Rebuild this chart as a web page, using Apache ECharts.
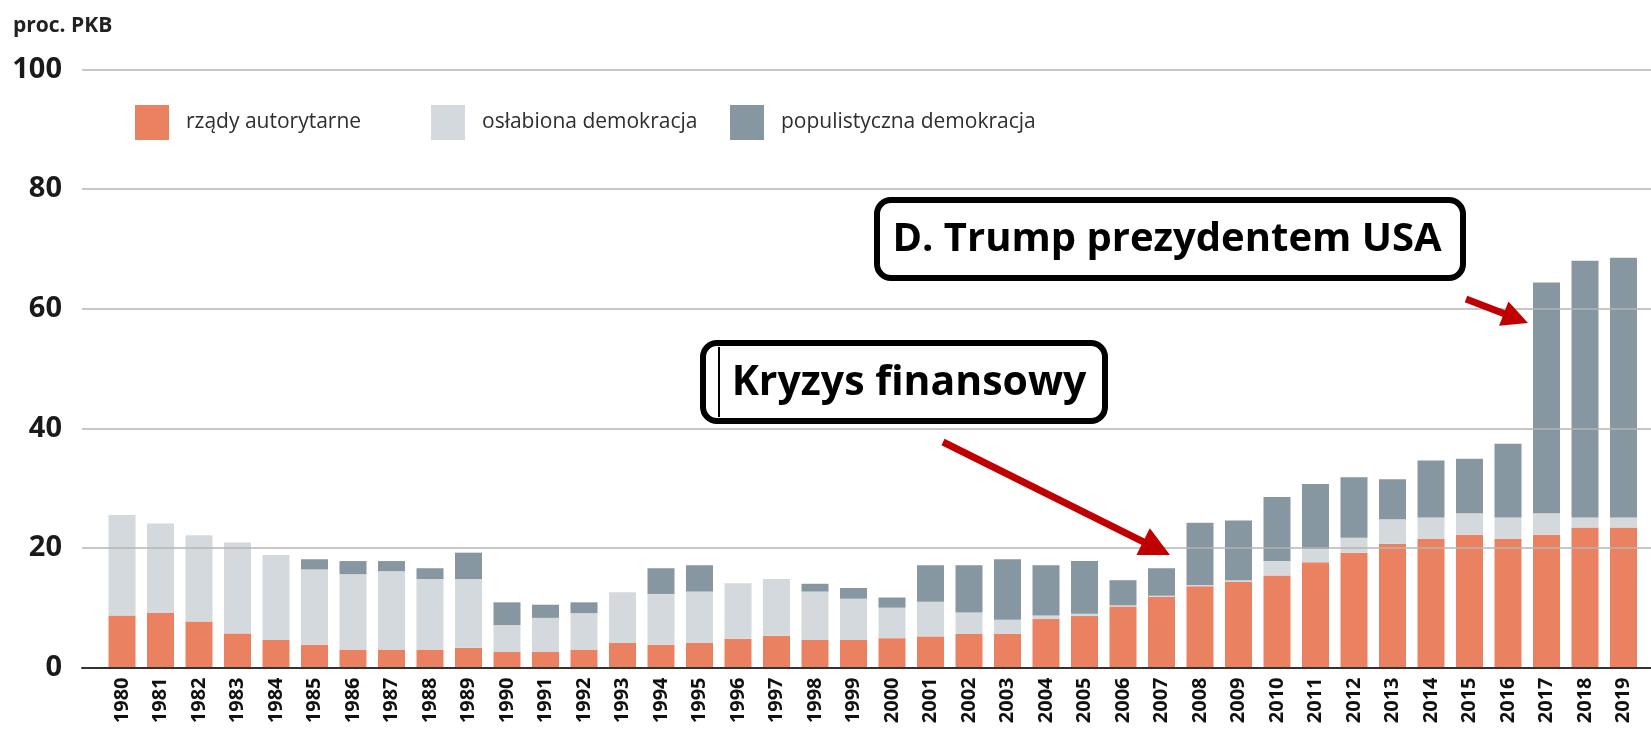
<!DOCTYPE html>
<html>
<head>
<meta charset="utf-8">
<script src="https://cdn.jsdelivr.net/npm/echarts@6/dist/echarts.min.js"></script>
<style>
html,body{margin:0;padding:0;background:#fff;}
#chart{width:1651px;height:729px;}
</style>
</head>
<body>
<div id="chart"></div>
<script>
const years = ['1980','1981','1982','1983','1984','1985','1986','1987','1988','1989',
  '1990','1991','1992','1993','1994','1995','1996','1997','1998','1999',
  '2000','2001','2002','2003','2004','2005','2006','2007','2008','2009',
  '2010','2011','2012','2013','2014','2015','2016','2017','2018','2019'];
const seriesNames = ['rządy autorytarne','osłabiona demokracja','populistyczna demokracja'];
const authoritarian = [8.7,9.1,7.7,5.7,4.6,3.8,3.0,3.0,3.0,3.3,
  2.6,2.6,3.0,4.1,3.8,4.1,4.8,5.3,4.6,4.6,
  4.9,5.2,5.6,5.6,8.1,8.6,10.2,11.8,13.6,14.3,
  15.4,17.6,19.2,20.7,21.5,22.2,21.5,22.2,23.4,23.4];
const weakened = [16.8,15.0,14.4,15.2,14.2,12.6,12.6,13.1,11.8,11.5,
  4.5,5.7,6.1,8.5,8.5,8.6,9.3,9.5,8.1,6.9,
  5.1,5.8,3.6,2.4,0.6,0.4,0.2,0.2,0.2,0.3,
  2.4,2.2,2.5,4.1,3.6,3.6,3.6,3.6,1.7,1.7];
const populist = [0,0,0,0,0,1.7,2.2,1.7,1.8,4.4,
  3.8,2.2,1.8,0,4.3,4.4,0,0,1.3,1.8,
  1.7,6.1,7.9,10.1,8.4,8.8,4.2,4.6,10.4,10.0,
  10.7,10.9,10.1,6.7,9.5,9.1,12.3,38.6,42.9,43.4];
const yTicks = [0,20,40,60,80,100];
const annotations = ['Kryzys finansowy','D. Trump prezydentem USA'];

const colors = ['#EA8262','#D4D9DE','#8797A1'];
const chart = echarts.init(document.getElementById('chart'));
const FONT = '"Open Sans", "Noto Sans", sans-serif';

function arrow(x1,y1,x2,y2,headLen,headHalf,color,w){
  const dx=x2-x1, dy=y2-y1, L=Math.hypot(dx,dy), ux=dx/L, uy=dy/L;
  const bx=x2-ux*headLen, by=y2-uy*headLen, px=-uy*headHalf, py=ux*headHalf;
  return [
    {type:'line', z:100, shape:{x1:x1,y1:y1,x2:bx+ux*2,y2:by+uy*2}, style:{stroke:color,lineWidth:w}},
    {type:'polygon', z:100, shape:{points:[[x2,y2],[bx+px,by+py],[bx-px,by-py]]}, style:{fill:color}}
  ];
}

const legendBase = {
  top: 100, itemWidth: 34, itemHeight: 35, icon: 'rect',
  textStyle: {fontFamily: FONT, fontSize: 21, color: '#2e2e2e', padding: [0,0,0,12]},
  selectedMode: false
};

chart.setOption({
  animation: false,
  textStyle: {fontFamily: FONT},
  grid: [
    {left: 82, right: 0, top: 69.5, bottom: 61.5},
    {left: 102.75, right: 8.25, top: 69.5, bottom: 61.5}
  ],
  legend: [
    Object.assign({}, legendBase, {left: 130, data: [seriesNames[0]]}),
    Object.assign({}, legendBase, {left: 426, data: [seriesNames[1]]}),
    Object.assign({}, legendBase, {left: 725, data: [seriesNames[2]]})
  ],
  xAxis: [
    {gridIndex: 0, type: 'value', min: 0, max: 1, z: 10,
      axisLine: {show: true, onZero: true, lineStyle: {color: '#333', width: 2}},
      axisTick: {show: false}, axisLabel: {show: false}, splitLine: {show: false}},
    {gridIndex: 1, type: 'category', data: years,
      axisLine: {show: false}, axisTick: {show: false},
      axisLabel: {rotate: 90, margin: 10, fontSize: 20, fontWeight: 'bold', color: '#111', fontFamily: FONT, interval: 0}}
  ],
  yAxis: [
    {gridIndex: 0, type: 'value', min: 0, max: 100, interval: 20, z: 10,
      axisLine: {show: false}, axisTick: {show: false},
      axisLabel: {margin: 20, fontSize: 29, fontWeight: 'bold', color: '#1a1a1a', fontFamily: FONT,
        formatter: v => yTicks.indexOf(v) >= 0 ? String(v) : ''},
      splitLine: {lineStyle: {color: '#b5b5b5', width: 1.5}}},
    {gridIndex: 1, type: 'value', min: 0, max: 100, show: false, splitLine: {show: false}}
  ],
  series: [
    {name: seriesNames[0], type: 'bar', stack: 's', xAxisIndex: 1, yAxisIndex: 1, barWidth: 27,
      itemStyle: {color: colors[0]}, data: authoritarian},
    {name: seriesNames[1], type: 'bar', stack: 's', xAxisIndex: 1, yAxisIndex: 1, barWidth: 27,
      itemStyle: {color: colors[1]}, data: weakened},
    {name: seriesNames[2], type: 'bar', stack: 's', xAxisIndex: 1, yAxisIndex: 1, barWidth: 27,
      itemStyle: {color: colors[2]}, data: populist}
  ],
  graphic: [
    {type: 'text', left: 13, top: 16, style: {text: 'proc. PKB', fontFamily: FONT, fontSize: 21, fontWeight: 'bold', fill: '#222'}},
    {type: 'rect', z: 100, shape: {x: 703, y: 343, width: 402, height: 78, r: 14}, style: {fill: '#fff', stroke: '#000', lineWidth: 6}},
    {type: 'line', z: 101, shape: {x1: 719, y1: 347, x2: 719, y2: 417}, style: {stroke: '#000', lineWidth: 2}},
    {type: 'text', z: 101, x: 909, y: 383, style: {text: annotations[0], fontFamily: FONT, fontSize: 41, fontWeight: 'bold', fill: '#000', align: 'center', verticalAlign: 'middle'}},
    {type: 'rect', z: 100, shape: {x: 877, y: 200, width: 586, height: 78, r: 14}, style: {fill: '#fff', stroke: '#000', lineWidth: 6}},
    {type: 'text', z: 101, x: 1167, y: 240, style: {text: annotations[1], fontFamily: FONT, fontSize: 40, fontWeight: 'bold', fill: '#000', align: 'center', verticalAlign: 'middle'}}
  ].concat(arrow(943,442,1170,555,30,15,'#C00000',7))
   .concat(arrow(1466,299,1528,323,26,13,'#C00000',7))
});
</script>
</body>
</html>
